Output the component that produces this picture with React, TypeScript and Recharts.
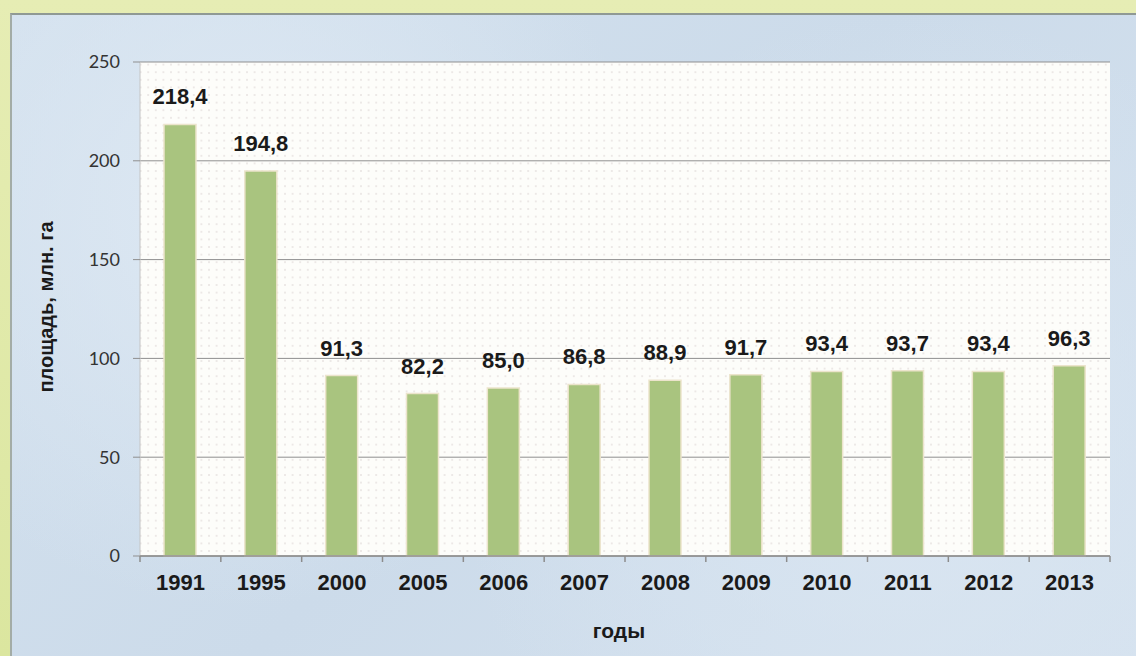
import React from "react";
import { BarChart, Bar, XAxis, YAxis, CartesianGrid, LabelList, Label } from "recharts";

const years = ["1991", "1995", "2000", "2005", "2006", "2007", "2008", "2009", "2010", "2011", "2012", "2013"];
const areaValues = [218.4, 194.8, 91.3, 82.2, 85.0, 86.8, 88.9, 91.7, 93.4, 93.7, 93.4, 96.3];
const yTicks = [0, 50, 100, 150, 200, 250];
const yTitle = "площадь, млн. га";
const xTitle = "годы";

const data = years.map((y, i) => ({ year: y, value: areaValues[i] }));

const W = 1136;
const H = 656;

const XTick = (props: any) => {
  const { x, y, payload, index, width } = props;
  const bw = width / years.length;
  const left = x - bw / 2;
  return (
    <g>
      <line x1={left} y1={y - 8} x2={left} y2={y - 2} stroke="#8c8c8c" strokeWidth={1.5} />
      {index === years.length - 1 && (
        <line x1={x + bw / 2} y1={y - 8} x2={x + bw / 2} y2={y - 2} stroke="#8c8c8c" strokeWidth={1.5} />
      )}
      <text
        x={x}
        y={y + 26}
        textAnchor="middle"
        fontFamily="'Liberation Sans', Arial, sans-serif"
        fontWeight="bold"
        fontSize={22}
        fill="#1a1a1a"
      >
        {payload.value}
      </text>
    </g>
  );
};

const fmt = (v: any) => Number(v).toFixed(1).replace(".", ",");

export default function App() {
  return (
    <div
      style={{
        position: "absolute",
        left: 0,
        top: 0,
        width: W,
        height: H,
        overflow: "hidden",
        background: "linear-gradient(180deg, #e6edb4 0%, #dbe69f 100%)",
      }}
    >
      <svg width={0} height={0} style={{ position: "absolute" }}>
        <defs>
          <pattern id="dots" x={0} y={0} width={7.6} height={7.6} patternUnits="userSpaceOnUse">
            <rect x={0} y={0} width={7.6} height={7.6} fill="#fdfdfa" />
            <circle cx={3.8} cy={3.8} r={0.7} fill="#d3c9c9" />
          </pattern>
        </defs>
      </svg>
      <div
        style={{
          position: "absolute",
          left: 10,
          top: 13,
          width: W - 10,
          height: H - 13,
          borderTop: "2px solid #8f9994",
          borderLeft: "2px solid #a3aca6",
          boxSizing: "border-box",
          background:
            "radial-gradient(circle at 20% 30%, #dde8f3 0%, rgba(221,232,243,0) 40%), radial-gradient(circle at 80% 70%, #d9e5f1 0%, rgba(217,229,241,0) 45%), linear-gradient(135deg, #d3e1ee 0%, #ccdbea 50%, #d5e2ef 100%)",
        }}
      />
      <div style={{ position: "absolute", left: 0, top: 0 }}>
        <BarChart
          width={W}
          height={H}
          data={data}
          margin={{ top: 62, right: 26, left: 0, bottom: 0 }}
          barCategoryGap={0}
        >
          <CartesianGrid
            vertical={false}
            stroke="#8f8f8f"
            strokeWidth={1}
            fill="url(#dots)"
            fillOpacity={1}
          />
          <YAxis
            width={140}
            domain={[0, 250]}
            ticks={yTicks}
            interval={0}
            tickSize={7}
            tickMargin={13}
            axisLine={{ stroke: "#c4c4c4" }}
            tickLine={{ stroke: "#8f8f8f" }}
            tick={{ fill: "#333333", fontSize: 18, fontFamily: "Lato, 'Open Sans', sans-serif" }}
          >
            <Label
              content={(p: any) => {
                const vb = p.viewBox;
                const cx = vb.x + 53;
                const cy = vb.y + vb.height / 2 - 2;
                return (
                  <text
                    x={cx}
                    y={cy}
                    transform={`rotate(-90, ${cx}, ${cy})`}
                    textAnchor="middle"
                    fontFamily="'Liberation Sans', Arial, sans-serif"
                    fontWeight="bold"
                    fontSize={20}
                    fill="#1a1a1a"
                  >
                    {yTitle}
                  </text>
                );
              }}
            />
          </YAxis>
          <XAxis
            dataKey="year"
            height={100}
            interval={0}
            axisLine={{ stroke: "#8c8c8c", strokeWidth: 1.5 }}
            tickLine={false}
            tick={<XTick />}
          >
            <Label
              content={(p: any) => {
                const vb = p.viewBox;
                return (
                  <text
                    x={vb.x + vb.width / 2 - 6}
                    y={vb.y + 82}
                    textAnchor="middle"
                    fontFamily="'Liberation Sans', Arial, sans-serif"
                    fontWeight="bold"
                    fontSize={21}
                    fill="#1a1a1a"
                  >
                    {xTitle}
                  </text>
                );
              }}
            />
          </XAxis>
          <Bar
            dataKey="value"
            fill="#a9c47f"
            stroke="#ece4cc"
            strokeWidth={1.5}
            barSize={32}
            isAnimationActive={false}
          >
            <LabelList
              dataKey="value"
              position="top"
              offset={20}
              formatter={fmt}
              fill="#1a1a1a"
              fontSize={22}
              fontWeight="bold"
              fontFamily="'Liberation Sans', Arial, sans-serif"
            />
          </Bar>
        </BarChart>
      </div>
    </div>
  );
}
